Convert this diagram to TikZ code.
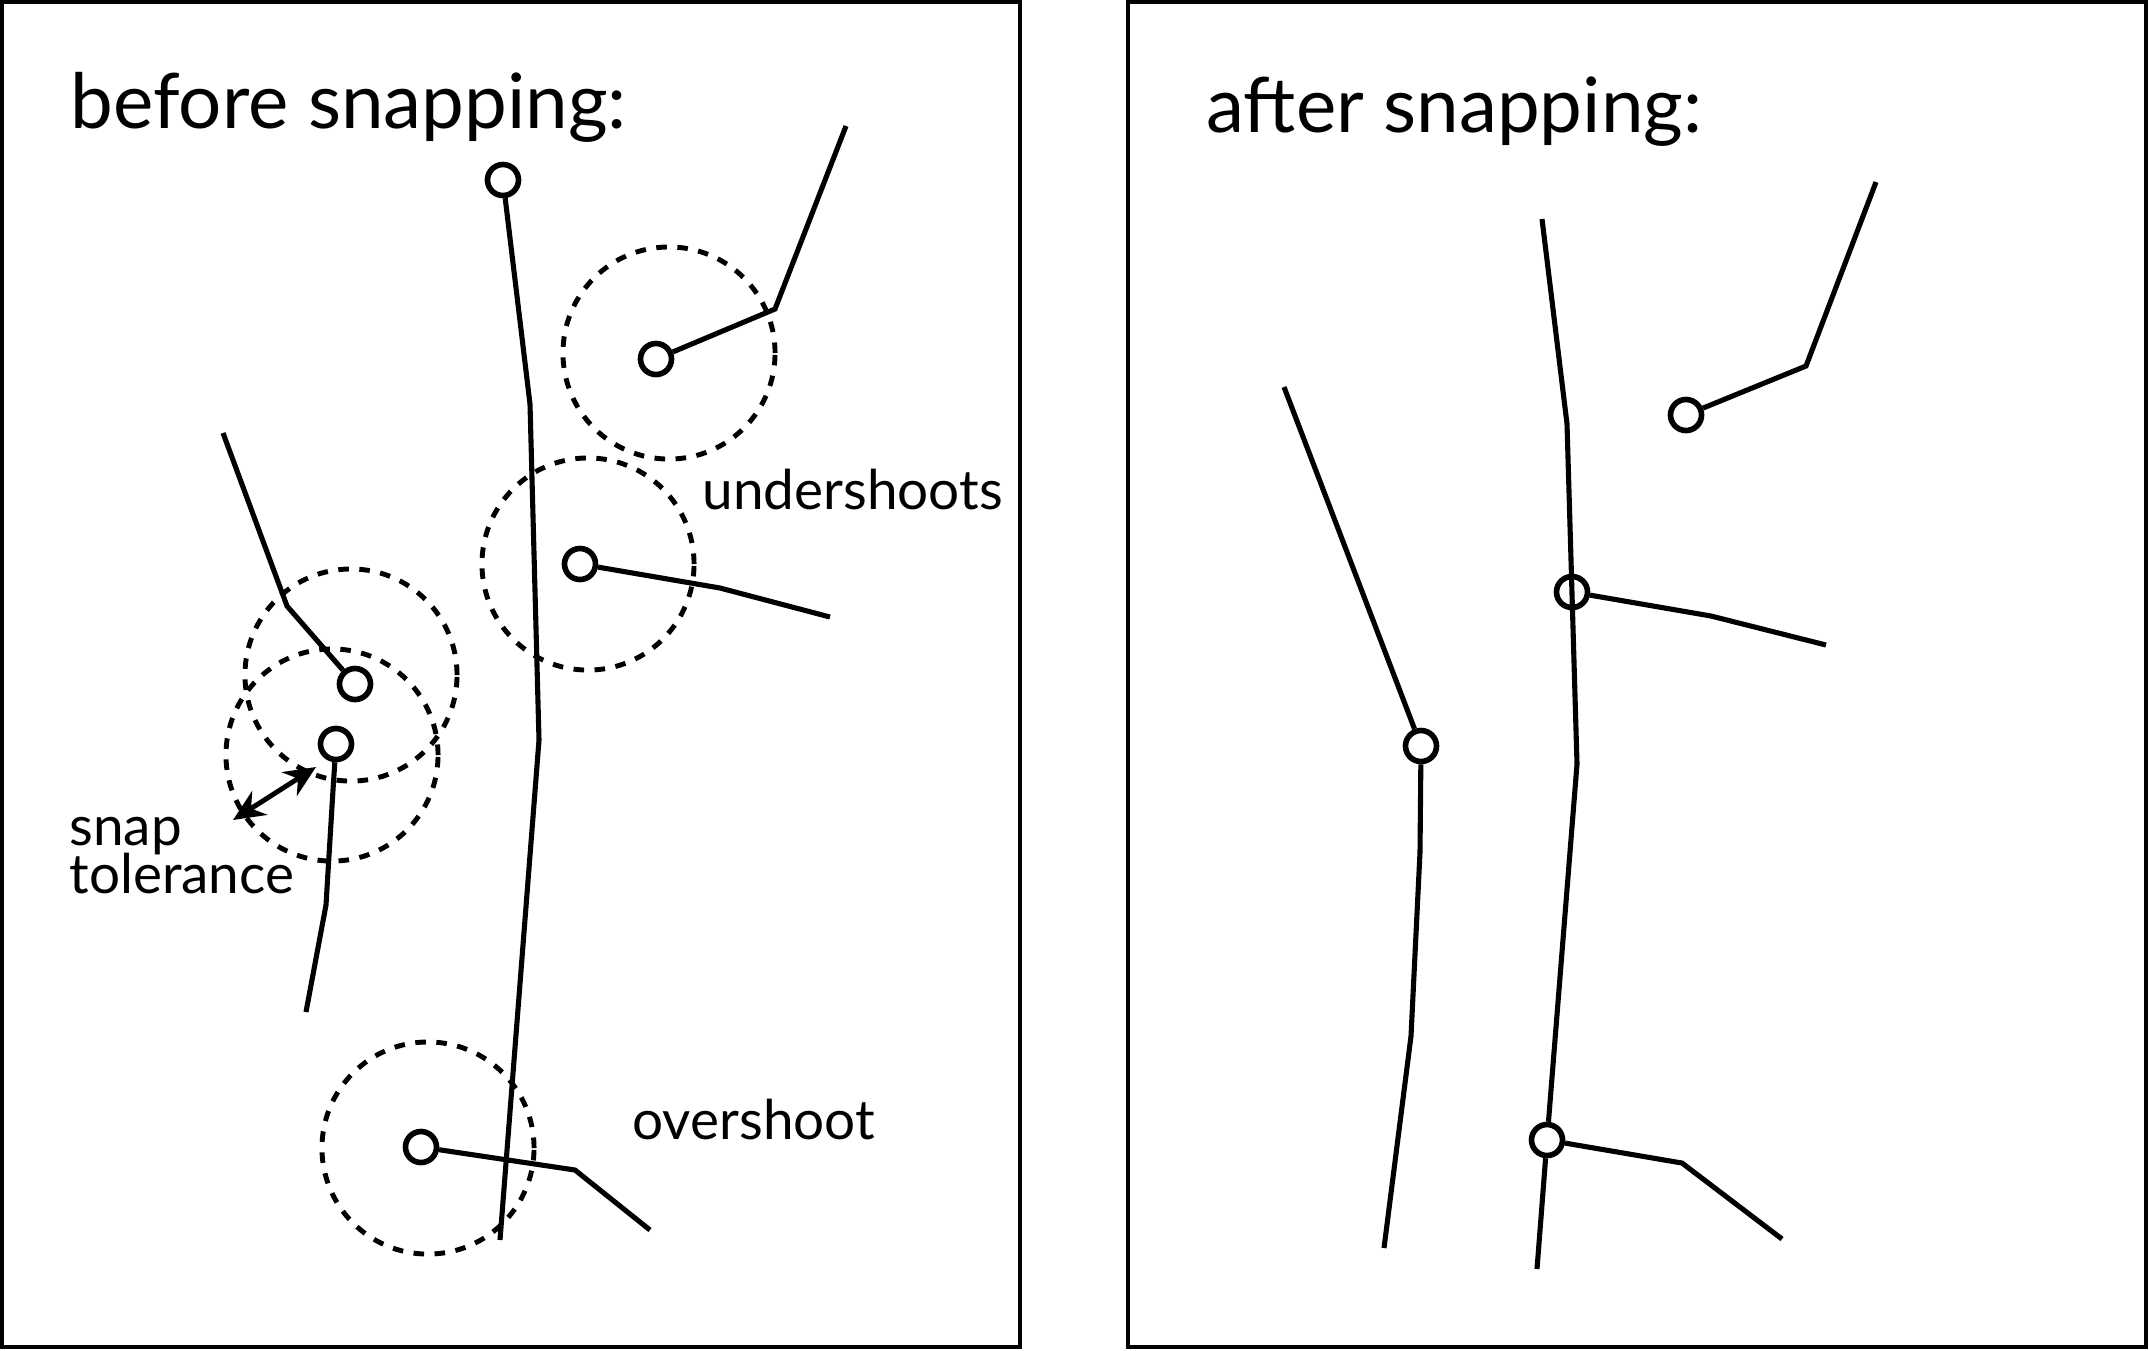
\documentclass[tikz,border=0pt]{standalone}
\usepackage{fontspec}
\setmainfont{Lato}
\usetikzlibrary{arrows.meta}

\begin{document}
\begin{tikzpicture}[x=0.01cm, y=-0.01cm,
    line width=1.45pt,
    frm/.style={draw, line width=1.3pt},
    ttl/.style={font=\fontsize{21.7}{26}\selectfont, anchor=base west, inner sep=0pt},
    lbl/.style={font=\fontsize{15.6}{18}\selectfont, anchor=base west, inner sep=0pt, align=left},
    vtx/.style={circle, draw, line width=1.6pt, fill=white, minimum size=0.31cm, inner sep=0pt},
    tol/.style={circle, draw, dash pattern=on 3pt off 3pt, line width=1.4pt, minimum size=2.12cm, inner sep=0pt},
    arr/.style={{Stealth[length=9pt,width=8pt]}-{Stealth[length=9pt,width=8pt]}, line width=1.4pt}]
  \useasboundingbox (0,0) rectangle (2149,1350);

  % before snapping
  \draw[frm] (2,2) rectangle (1020,1347);
  \node[ttl] (t1) at (68,128) {before snapping:};
  \node[tol] (z1) at (669,353) {};
  \node[tol] (z2) at (588,564) {};
  \node[tol] (z3) at (351,675) {};
  \node[tol] (z4) at (332,755) {};
  \node[tol] (z5) at (428,1148) {};
  \node[vtx] (a1) at (503,180) {};
  \node[vtx] (b1) at (656,359) {};
  \node[vtx] (c1) at (580,564) {};
  \node[vtx] (d1) at (355,684) {};
  \node[vtx] (e1) at (336,744) {};
  \node[vtx] (f1) at (421,1147) {};
  \coordinate (a2) at (530,404);
  \coordinate (a3) at (539,740);
  \coordinate (a4) at (500,1240);
  \coordinate (b2) at (775,309);
  \coordinate (b3) at (846,126);
  \coordinate (c2) at (720,588);
  \coordinate (c3) at (830,617);
  \coordinate (d2) at (287,606);
  \coordinate (d3) at (223,433);
  \coordinate (e2) at (333,790);
  \coordinate (e3) at (326,905);
  \coordinate (e4) at (306,1012);
  \coordinate (f2) at (575,1170);
  \coordinate (f3) at (650,1230);
  \draw (a1) -- (a2) -- (a3) -- (a4);
  \draw (b1) -- (b2) -- (b3);
  \draw (c1) -- (c2) -- (c3);
  \draw (d1) -- (d2) -- (d3);
  \draw (e1) -- (e2) -- (e3) -- (e4);
  \draw (f1) -- (f2) -- (f3);
  \coordinate (s1) at (233,820);
  \coordinate (s2) at (316,767);
  \draw[arr] (s1) -- (s2);
  \node[lbl] (u) at (700,509) {undershoots};
  \node[lbl] (o) at (630,1139) {overshoot};
  \node[lbl] (s) at (67,893) {snap\\[-4.5pt]tolerance};

  % after snapping
  \draw[frm] (1128,2) rectangle (2146,1347);
  \node[ttl] (t2) at (1204,132) {after snapping:};
  \node[vtx] (h1) at (1572,592) {};
  \node[vtx] (k1) at (1547,1140) {};
  \node[vtx] (m1) at (1686,415) {};
  \node[vtx] (n2) at (1421,746) {};
  \coordinate (g1) at (1542,219);
  \coordinate (g2) at (1567,424);
  \coordinate (g3) at (1577,764);
  \coordinate (g4) at (1537,1269);
  \coordinate (h2) at (1711,616);
  \coordinate (h3) at (1826,645);
  \coordinate (k2) at (1682,1163);
  \coordinate (k3) at (1782,1239);
  \coordinate (m2) at (1806,366);
  \coordinate (m3) at (1876,182);
  \coordinate (n1) at (1284,387);
  \coordinate (n3) at (1420,852);
  \coordinate (n4) at (1411,1036);
  \coordinate (n5) at (1384,1248);
  \draw (g1) -- (g2) -- (g3) -- (k1);
  \draw (k1) -- (g4);
  \draw (h1) -- (h2) -- (h3);
  \draw (k1) -- (k2) -- (k3);
  \draw (m1) -- (m2) -- (m3);
  \draw (n1) -- (n2);
  \draw (n2) -- (n3) -- (n4) -- (n5);
\end{tikzpicture}
\end{document}
